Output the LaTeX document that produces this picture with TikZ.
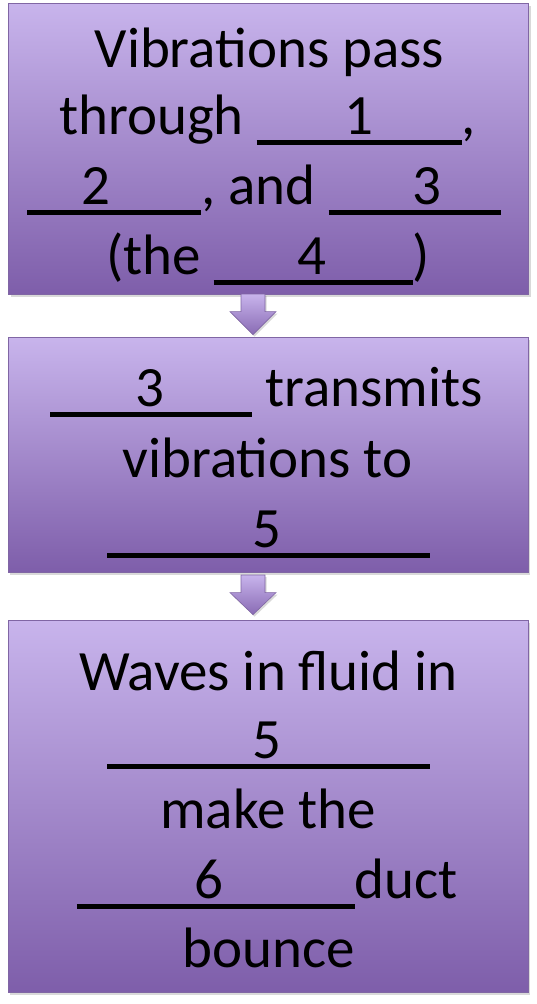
\documentclass[tikz,border=0pt]{standalone}
\usepackage{fontspec}
\setmainfont{Carlito}
\usetikzlibrary{calc,shadows}
\definecolor{boxtop}{RGB}{200,180,236}
\definecolor{boxbot}{RGB}{126,94,170}
\definecolor{boxline}{RGB}{128,102,164}
% blank: width, centre of digit from left, digit
\newcommand\blank[3]{\makebox[#1][l]{\hspace*{\dimexpr#2-14.5pt\relax}#3}\llap{\rule[-10.5pt]{#1}{4.5pt}}}
\begin{document}
\begin{tikzpicture}[x=1pt,y=-1pt,
  box/.style={draw=boxline, line width=0.8pt, top color=boxtop, bottom color=boxbot,
    minimum width=520pt, inner sep=0pt,
    drop shadow={shadow xshift=2pt,shadow yshift=-3pt,opacity=0.3}},
  flow/.style={draw=boxline, line width=0.6pt, top color=boxtop, bottom color=boxbot!85!boxtop,
    drop shadow={shadow xshift=1.5pt,shadow yshift=-2pt,opacity=0.3}},
  txt/.style={anchor=base, inner sep=0pt, font=\fontsize{57}{70}\selectfont}]
\useasboundingbox (0,0) rectangle (537,1004);
% connectors (drawn first, under the boxes)
\coordinate (a1s) at (253,294);
\coordinate (a2s) at (253,575);
% boxes
\node[box, minimum height=291pt] (b1) at (268.5,148.5) {};
\node[box, minimum height=235pt] (b2) at (268,454.5) {};
\node[box, minimum height=372pt] (b3) at (268,806) {};
\path[flow] ($(a1s)+(-12,0)$) -- ($(b2.north -| a1s)+(-12,-25)$) -- ($(b2.north -| a1s)+(-23,-25)$)
  -- ($(b2.north -| a1s)+(0,-2)$) -- ($(b2.north -| a1s)+(23,-25)$) -- ($(b2.north -| a1s)+(12,-25)$)
  -- ($(a1s)+(12,0)$) -- cycle;
\path[flow] ($(a2s)+(-12,0)$) -- ($(b3.north -| a2s)+(-12,-27)$) -- ($(b3.north -| a2s)+(-23,-27)$)
  -- ($(b3.north -| a2s)+(0,-5)$) -- ($(b3.north -| a2s)+(23,-27)$) -- ($(b3.north -| a2s)+(12,-27)$)
  -- ($(a2s)+(12,0)$) -- cycle;
% box 1 text
\node[txt] (t11) at (269.5,67) {Vibrations pass};
\node[txt] (t12) at (267.5,134) {through \blank{205pt}{102pt}{1},};
\node[txt] (t13) at (264,204) {\blank{174pt}{69pt}{2}, and \blank{172pt}{98pt}{3}};
\node[txt] (t14) at (268,274) {(the \blank{199pt}{98pt}{4})};
% box 2 text
\node[txt] (t21) at (266.5,406) {\blank{202pt}{100pt}{3} transmits};
\node[txt] (t22) at (267.5,477) {vibrations to};
\node[txt] (t23) at (268.5,547) {\blank{323pt}{160pt}{5}};
% box 3 text
\node[txt] (t31) at (268.5,690) {Waves in fluid in};
\node[txt] (t32) at (268.5,758) {\blank{323pt}{160pt}{5}};
\node[txt] (t33) at (268,828) {make the};
\node[txt] (t34) at (267.5,898) {\blank{278pt}{132pt}{6}duct};
\node[txt] (t35) at (268.5,967) {bounce};
\end{tikzpicture}
\end{document}
